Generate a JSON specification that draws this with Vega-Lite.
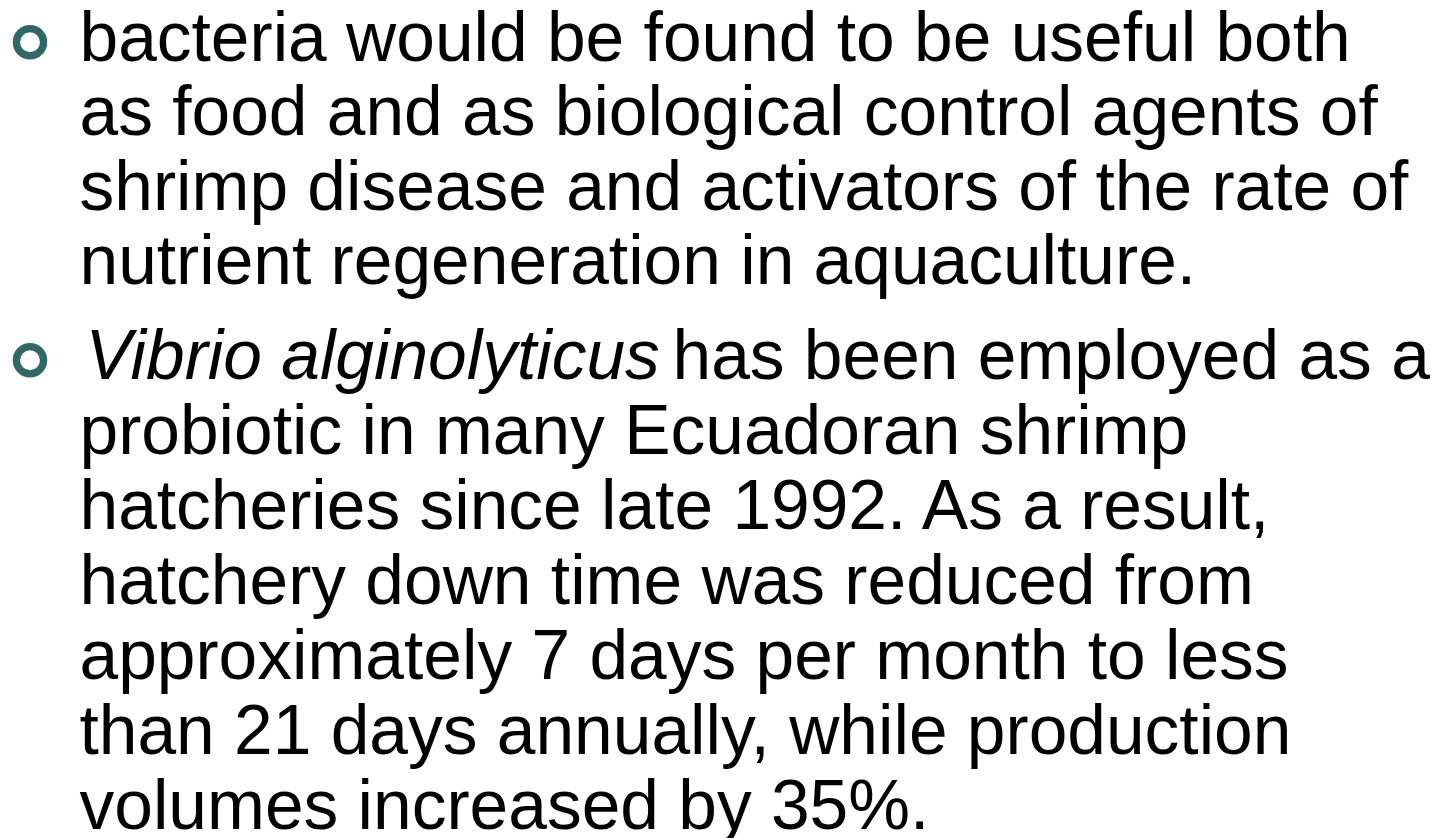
{
  "$schema": "https://vega.github.io/schema/vega-lite/v6.json",
  "background": "white",
  "padding": {"left": 0, "top": 4, "right": 0, "bottom": 0},
  "spacing": 18.8,
  "config": {"view": {"stroke": null}},
  "data": {"values": [
    {"para": 1, "line": 1, "seg": 1, "style": "normal", "text": "bacteria would be found to be useful both"},
    {"para": 1, "line": 2, "seg": 1, "style": "normal", "text": "as food and as biological control agents of"},
    {"para": 1, "line": 3, "seg": 1, "style": "normal", "text": "shrimp disease and activators of the rate of"},
    {"para": 1, "line": 4, "seg": 1, "style": "normal", "text": "nutrient regeneration in aquaculture."},
    {"para": 2, "line": 1, "seg": 1, "style": "italic", "text": "Vibrio alginolyticus"},
    {"para": 2, "line": 1, "seg": 2, "style": "normal", "text": "has been employed as a"},
    {"para": 2, "line": 2, "seg": 1, "style": "normal", "text": "probiotic in many Ecuadoran shrimp"},
    {"para": 2, "line": 3, "seg": 1, "style": "normal", "text": "hatcheries since late 1992. As a result,"},
    {"para": 2, "line": 4, "seg": 1, "style": "normal", "text": "hatchery down time was reduced from"},
    {"para": 2, "line": 5, "seg": 1, "style": "normal", "text": "approximately 7 days per month to less"},
    {"para": 2, "line": 6, "seg": 1, "style": "normal", "text": "than 21 days annually, while production"},
    {"para": 2, "line": 7, "seg": 1, "style": "normal", "text": "volumes increased by 35%."}
  ]},
  "vconcat": [
    {
      "width": 1451,
      "height": {"step": 74.5},
      "transform": [{"filter": "datum.para == 1"}],
      "encoding": {
        "y": {"field": "line", "type": "ordinal", "scale": {"type": "point", "padding": 0.5}, "axis": null}
      },
      "layer": [
        {
          "transform": [{"filter": "datum.seg == 1 && datum.line == 1"}],
          "mark": {"type": "point", "shape": "circle", "filled": false, "stroke": "#316866", "strokeWidth": 7.3, "size": 740, "opacity": 1},
          "encoding": {
            "x": {"datum": "bullet", "type": "ordinal", "scale": {"type": "point", "domain": ["bullet", "text"], "range": [30, 79.5], "padding": 0}, "axis": null}
          }
        },
        {
          "transform": [{"filter": "datum.style == 'normal' && datum.seg == 1"}],
          "mark": {"type": "text", "align": "left", "baseline": "alphabetic", "dy": 18.3, "font": "Liberation Sans", "fontSize": 69.5, "color": "#000000"},
          "encoding": {
            "x": {"datum": "text", "type": "ordinal", "scale": {"type": "point", "domain": ["bullet", "text"], "range": [30, 79.5], "padding": 0}, "axis": null},
            "text": {"field": "text"}
          }
        }
      ]
    },
    {
      "width": 1451,
      "height": {"step": 75},
      "transform": [{"filter": "datum.para == 2"}],
      "encoding": {
        "y": {"field": "line", "type": "ordinal", "scale": {"type": "point", "padding": 0.5}, "axis": null}
      },
      "layer": [
        {
          "transform": [{"filter": "datum.seg == 1 && datum.line == 1"}],
          "mark": {"type": "point", "shape": "circle", "filled": false, "stroke": "#316866", "strokeWidth": 7.3, "size": 740, "opacity": 1},
          "encoding": {
            "x": {"datum": "bullet", "type": "ordinal", "scale": {"type": "point", "domain": ["bullet", "text"], "range": [30, 79.5], "padding": 0}, "axis": null}
          }
        },
        {
          "transform": [{"filter": "datum.style == 'normal' && datum.seg == 1"}],
          "mark": {"type": "text", "align": "left", "baseline": "alphabetic", "dy": 18.3, "font": "Liberation Sans", "fontSize": 69.5, "color": "#000000"},
          "encoding": {
            "x": {"datum": "text", "type": "ordinal", "scale": {"type": "point", "domain": ["bullet", "text"], "range": [30, 79.5], "padding": 0}, "axis": null},
            "text": {"field": "text"}
          }
        },
        {
          "transform": [{"filter": "datum.style == 'italic'"}],
          "mark": {"type": "text", "align": "left", "baseline": "alphabetic", "dy": 18.3, "dx": 6, "font": "Liberation Sans", "fontStyle": "italic", "fontSize": 69.5, "color": "#000000"},
          "encoding": {
            "x": {"datum": "text", "type": "ordinal", "scale": {"type": "point", "domain": ["bullet", "text"], "range": [30, 79.5], "padding": 0}, "axis": null},
            "text": {"field": "text"}
          }
        },
        {
          "transform": [{"filter": "datum.seg == 2"}],
          "mark": {"type": "text", "align": "left", "baseline": "alphabetic", "dy": 18.3, "dx": 593, "font": "Liberation Sans", "fontSize": 69.5, "color": "#000000"},
          "encoding": {
            "x": {"datum": "text", "type": "ordinal", "scale": {"type": "point", "domain": ["bullet", "text"], "range": [30, 79.5], "padding": 0}, "axis": null},
            "text": {"field": "text"}
          }
        }
      ]
    }
  ]
}
